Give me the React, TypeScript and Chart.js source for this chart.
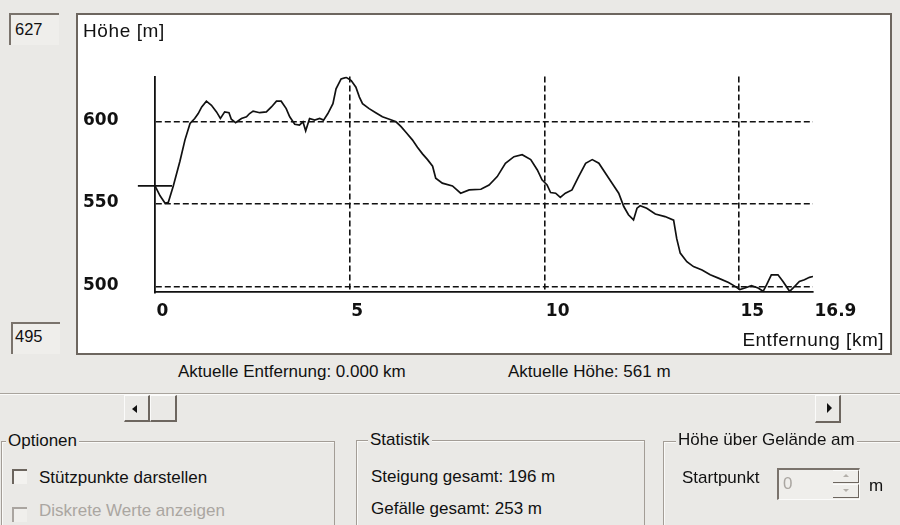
import React, { useEffect, useRef } from 'react';
import { Chart, registerables } from 'chart.js';

Chart.register(...registerables);

// Elevation profile: distance (km) and height (m)
const distanceKm = [
  0.0, 0.13, 0.26, 0.34, 0.47, 0.64, 0.77, 0.9, 1.02, 1.11, 1.2, 1.32, 1.45, 1.58, 1.68, 1.79,
  1.9, 1.96, 2.07, 2.22, 2.35, 2.43, 2.52, 2.69, 2.86, 2.99, 3.12, 3.24, 3.37, 3.46, 3.59, 3.71,
  3.8, 3.87, 3.97, 4.1, 4.23, 4.33, 4.44, 4.57, 4.65, 4.78, 4.91, 5.04, 5.16, 5.25, 5.33, 5.5,
  5.67, 5.84, 6.02, 6.19, 6.32, 6.45, 6.61, 6.74, 6.87, 7.0, 7.13, 7.21, 7.38, 7.64, 7.85, 8.07,
  8.37, 8.58, 8.79, 9.0, 9.22, 9.43, 9.65, 9.82, 9.94, 10.07, 10.16, 10.29, 10.41, 10.54, 10.71,
  10.88, 11.06, 11.23, 11.4, 11.57, 11.74, 11.91, 12.04, 12.16, 12.29, 12.38, 12.46, 12.63, 12.85,
  13.1, 13.32, 13.4, 13.49, 13.66, 13.83, 14.05, 14.26, 14.47, 14.73, 14.9, 15.02, 15.15, 15.32,
  15.49, 15.62, 15.71, 15.83, 16.0, 16.13, 16.3, 16.43, 16.55, 16.68, 16.81, 16.9,
];
const heightM = [
  561, 555, 550.5, 551, 561, 576, 589, 599, 602, 605, 609, 612.5, 610, 606, 602, 606,
  605.5, 601.5, 599.5, 602, 603, 605, 606.5, 605.5, 606, 609, 612.5, 612.5, 608, 603, 598.5, 598,
  600, 594.5, 602, 601, 602, 601, 605, 611, 620, 626, 627, 625, 621, 615, 611, 608,
  605.5, 603, 601.5, 600, 597, 593.5, 589, 584.5, 580.5, 577, 573, 565.7, 562.7, 561, 556.6, 558.6,
  559, 561.6, 566.7, 574.8, 578.8, 580, 577, 570.7, 564.7, 561.6, 557, 556.6, 554, 556.6, 558.6,
  566.7, 574.8, 577, 574.8, 568.7, 562.7, 556.6, 548.5, 543.5, 540.4, 547.5, 549, 547.5, 544,
  542.4, 540.2, 529, 520.2, 515, 512, 510, 507, 505, 502.4, 500, 498, 499, 500.4,
  499, 497, 501, 507, 507, 503, 497, 500, 503, 504, 505.5, 506,
];

const xTicks = [0, 5, 10, 15, 16.9];
const yTicks = [500, 550, 600];
const xMin = 0;
const xMax = 16.9;
const yMin = 496.4;
const yMax = 627.5;

// current position marker (0.000 km, 561 m)
const markerKm = [-0.44, 0.44];
const currentHeight = 561;

const BG = '#eae9e6';
const DARK = '#6d665f';
const INK = '#111111';

function Label(props: { x: number; y: number; size?: number; color?: string; children: React.ReactNode; bg?: boolean; spacing?: number; lh?: number }) {
  return (
    <div
      style={{
        position: 'absolute',
        left: props.x,
        top: props.y,
        fontSize: props.size ?? 17,
        lineHeight: (props.lh ?? 20) + 'px',
        whiteSpace: 'nowrap',
        color: props.color ?? INK,
        background: props.bg ? BG : 'transparent',
        padding: props.bg ? '0 2px' : 0,
        letterSpacing: props.spacing ? props.spacing + 'px' : undefined,
      }}
    >
      {props.children}
    </div>
  );
}

function Box(props: { x: number; y: number; w: number; h: number; style?: React.CSSProperties; children?: React.ReactNode }) {
  return (
    <div
      style={{
        position: 'absolute',
        left: props.x,
        top: props.y,
        width: props.w,
        height: props.h,
        boxSizing: 'border-box',
        ...props.style,
      }}
    >
      {props.children}
    </div>
  );
}

const sunken: React.CSSProperties = {
  borderTop: '2px solid #7a736c',
  borderLeft: '2px solid #7a736c',
  borderRight: '1px solid #fbfbfa',
  borderBottom: '1px solid #fbfbfa',
  background: '#efeeeb',
};
const raised: React.CSSProperties = {
  borderTop: '1px solid #fbfbfa',
  borderLeft: '1px solid #fbfbfa',
  borderRight: '2px solid ' + DARK,
  borderBottom: '2px solid ' + DARK,
};
const groupFrame: React.CSSProperties = {
  border: '1px solid #a39d96',
  boxShadow: 'inset 1px 1px 0 #fafaf8',
};

export default function App() {
  const ref = useRef<HTMLCanvasElement>(null);

  useEffect(() => {
    const tickFont = { family: '"DejaVu Sans", sans-serif', weight: 'bold' as const, size: 17 };
    const chart = new Chart(ref.current!, {
      type: 'line',
      data: {
        datasets: [
          {
            data: distanceKm.map((x, i) => ({ x, y: heightM[i] })),
            borderColor: INK,
            borderWidth: 1.7,
            pointRadius: 0,
            fill: false,
            tension: 0,
          },
          {
            data: markerKm.map((x) => ({ x, y: currentHeight })),
            borderColor: INK,
            borderWidth: 1.7,
            pointRadius: 0,
            fill: false,
            clip: false as any,
          },
        ],
      },
      options: {
        animation: false,
        responsive: false,
        maintainAspectRatio: false,
        events: [],
        layout: { padding: { left: 5, right: 77, top: 61.5, bottom: 20.7 } },
        plugins: { legend: { display: false }, tooltip: { enabled: false }, title: { display: false } },
        scales: {
          x: {
            type: 'linear',
            min: xMin,
            max: xMax,
            afterBuildTicks: (s: any) => {
              s.ticks = xTicks.map((v) => ({ value: v }));
            },
            afterFit: (s: any) => {
              s.height = 40;
            },
            ticks: {
              align: 'start',
              padding: 9,
              labelOffset: 1.5,
              autoSkip: false,
              maxRotation: 0,
              color: INK,
              font: tickFont,
              callback: (v: any) => String(v),
            },
            grid: {
              drawTicks: false,
              lineWidth: 1.6,
              color: (c: any) => (c.index === 0 || c.index === xTicks.length - 1 ? 'rgba(0,0,0,0)' : INK),
            },
            border: { display: true, color: INK, width: 1.8, dash: [6, 3] },
          },
          y: {
            type: 'linear',
            min: yMin,
            max: yMax,
            afterBuildTicks: (s: any) => {
              s.ticks = yTicks.map((v) => ({ value: v }));
            },
            afterFit: (s: any) => {
              s.width = 72;
            },
            ticks: {
              crossAlign: 'far',
              padding: 0,
              labelOffset: -1,
              color: INK,
              font: tickFont,
              callback: (v: any) => String(v),
            },
            grid: { drawTicks: false, lineWidth: 1.6, color: INK },
            border: { display: true, color: INK, width: 1.8, dash: [6, 3] },
          },
        },
      },
    });
    return () => chart.destroy();
  }, []);

  return (
    <div
      style={{
        position: 'absolute',
        left: 0,
        top: 0,
        width: 900,
        height: 525,
        overflow: 'hidden',
        background: BG,
        fontFamily: '"Liberation Sans", Arial, sans-serif',
        color: INK,
      }}
    >
      {/* min / max edit boxes */}
      <Box x={9} y={13} w={50} h={32} style={{ ...sunken, borderRight: 'none', borderBottom: 'none' }} />
      <Label x={15} y={18.5} size={16.5}>627</Label>
      <Box x={11} y={322} w={49} h={32} style={{ ...sunken, borderRight: 'none', borderBottom: 'none' }} />
      <Label x={15} y={325.5} size={16.5}>495</Label>

      {/* chart frame */}
      <Box x={76} y={13} w={816} h={342} style={{ border: '2px solid ' + DARK, background: '#ffffff' }}>
        <canvas ref={ref} width={812} height={338} style={{ position: 'absolute', left: 0, top: 0 }} />
      </Box>
      <Label x={83} y={18.9} size={19} spacing={0.6} lh={24}>Höhe [m]</Label>
      <div
        style={{
          position: 'absolute',
          right: 16,
          top: 328,
          fontSize: 19,
          lineHeight: '24px',
          letterSpacing: '0.5px',
          whiteSpace: 'nowrap',
        }}
      >
        Entfernung [km]
      </div>

      {/* current values */}
      <Label x={178} y={362}>Aktuelle Entfernung: 0.000 km</Label>
      <Label x={508} y={362}>Aktuelle Höhe: 561 m</Label>

      {/* separator */}
      <Box x={0} y={393} w={900} h={2} style={{ borderTop: '1px solid #a9a49d', borderBottom: '1px solid #fbfbfa' }} />

      {/* scroll bar */}
      <Box x={124} y={395} w={26} h={27} style={raised} />
      <div
        style={{
          position: 'absolute',
          left: 132,
          top: 405,
          width: 0,
          height: 0,
          borderTop: '4px solid transparent',
          borderBottom: '4px solid transparent',
          borderRight: '5px solid ' + INK,
        }}
      />
      <Box x={150} y={395} w={27} h={27} style={raised} />
      <Box x={815} y={395} w={26} h={28} style={raised} />
      <div
        style={{
          position: 'absolute',
          left: 827,
          top: 403,
          width: 0,
          height: 0,
          borderTop: '5px solid transparent',
          borderBottom: '5px solid transparent',
          borderLeft: '5px solid ' + INK,
        }}
      />

      {/* Optionen group */}
      <Box x={1} y={441} w={334} h={120} style={groupFrame} />
      <Label x={6} y={431} bg>Optionen</Label>
      <Box x={12} y={469} w={15} h={15} style={{ borderTop: '2px solid #6c655e', borderLeft: '2px solid #6c655e', background: '#f3f2ef' }} />
      <Label x={39} y={468}>Stützpunkte darstellen</Label>
      <Box x={12} y={507} w={15} h={15} style={{ borderTop: '2px solid #aaa5a0', borderLeft: '2px solid #aaa5a0', background: '#f0efec' }} />
      <Label x={39} y={501} color="#aaa6a1">Diskrete Werte anzeigen</Label>

      {/* Statistik group */}
      <Box x={356} y={440} w={289} h={120} style={groupFrame} />
      <Label x={368} y={430} bg>Statistik</Label>
      <Label x={371} y={467}>Steigung gesamt: 196 m</Label>
      <Label x={371} y={499}>Gefälle gesamt: 253 m</Label>

      {/* Höhe über Gelände group */}
      <Box x={663} y={441} w={260} h={120} style={groupFrame} />
      <Label x={676} y={430} bg>Höhe über Gelände am</Label>
      <Label x={682} y={468}>Startpunkt</Label>
      <Box x={777} y={468} w={83} h={32} style={sunken} />
      <Label x={783} y={474} color="#aaa6a1">0</Label>
      <Box x={833} y={470} w={26} h={13} style={{ borderBottom: '1px solid ' + DARK, borderRight: '1px solid ' + DARK, borderTop: '1px solid #fbfbfa' }} />
      <Box x={833} y={484} w={26} h={14} style={{ borderBottom: '1px solid ' + DARK, borderRight: '1px solid ' + DARK, borderTop: '1px solid #fbfbfa' }} />
      <div
        style={{
          position: 'absolute',
          left: 843,
          top: 474,
          width: 0,
          height: 0,
          borderLeft: '3px solid transparent',
          borderRight: '3px solid transparent',
          borderBottom: '3px solid #b3afaa',
        }}
      />
      <div
        style={{
          position: 'absolute',
          left: 843,
          top: 489,
          width: 0,
          height: 0,
          borderLeft: '3px solid transparent',
          borderRight: '3px solid transparent',
          borderTop: '3px solid #b3afaa',
        }}
      />
      <Label x={869} y={476}>m</Label>
    </div>
  );
}
